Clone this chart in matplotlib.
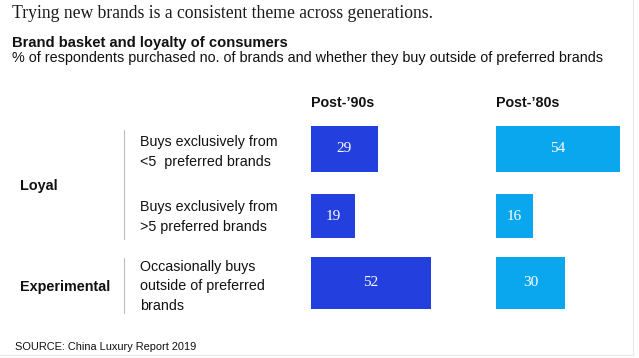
import matplotlib.pyplot as plt
import numpy as np

# data
segments = ["Loyal", "Experimental"]
behaviours = [
    "Buys exclusively from\n<5  preferred brands",
    "Buys exclusively from\n>5 preferred brands",
    "Occasionally buys\noutside of preferred\nbrands",
]
generations = ["Post-\u201990s", "Post-\u201980s"]
post90 = [29, 19, 52]
post80 = [54, 16, 30]

W, H = 639, 358
DARK = "#2340df"
LIGHT = "#0aa6ee"
SANS = "Liberation Sans"
SERIF = "Liberation Serif"

fig = plt.figure(figsize=(W / 100, H / 100), dpi=100)


def fx(x):
    return x / W


def fy(y):
    return 1 - y / H


def put(x, y, s, **kw):
    kw.setdefault("family", SANS)
    kw.setdefault("va", "center")
    kw.setdefault("color", "#111111")
    fig.text(fx(x), fy(y), s, **kw)


# titles
put(12, 13, "Trying new brands is a consistent theme across generations.",
    family=SERIF, fontsize=12.7, color="#1a1a1a")
put(12, 43, "Brand basket and loyalty of consumers", fontsize=10.6, weight="bold")
put(12, 58, "% of respondents purchased no. of brands and whether they buy outside of preferred brands",
    fontsize=10.4)

# bar panels
scale = 2.3  # px per unit
top, bottom = 115.5, 316.5
y = np.arange(len(post90))
heights = [0.69, 0.67, 0.78]
for left, vals, col, name in [(311, post90, DARK, generations[0]),
                              (496, post80, LIGHT, generations[1])]:
    width = 60 * scale
    ax = fig.add_axes([fx(left), fy(bottom), width / W, (bottom - top) / H])
    ax.barh(y, vals, height=heights, color=col)
    for yi, v in zip(y, vals):
        ax.text(v / 2, yi, str(v), ha="center", va="center", color="white",
                family=SERIF, fontsize=11)
    ax.set_xlim(0, 60)
    ax.set_ylim(2.5, -0.5)
    ax.axis("off")
    put(left, 103, name, fontsize=10.3, weight="bold")

# row labels
put(140, 152, behaviours[0], fontsize=10.3, linespacing=1.5)
put(140, 217, behaviours[1], fontsize=10.3, linespacing=1.5)
put(140, 286, behaviours[2], fontsize=10.3, linespacing=1.5)

put(20, 186, segments[0], fontsize=10.4, weight="bold")
put(20, 287, segments[1], fontsize=10.4, weight="bold")

# dividers
for y0, y1 in [(130, 239), (258, 313)]:
    fig.add_artist(plt.Line2D([fx(124), fx(124)], [fy(y0), fy(y1)],
                              color="#bdbdbd", lw=0.8))

# faint frame
fig.add_artist(plt.Line2D([fx(633), fx(633)], [fy(0), fy(355)], color="#e8e8e8", lw=0.8))
fig.add_artist(plt.Line2D([fx(0), fx(633)], [fy(355), fy(355)], color="#e8e8e8", lw=0.8))

put(15, 347, "SOURCE: China Luxury Report 2019", fontsize=7.9)

fig.savefig("out.png", dpi=100)
